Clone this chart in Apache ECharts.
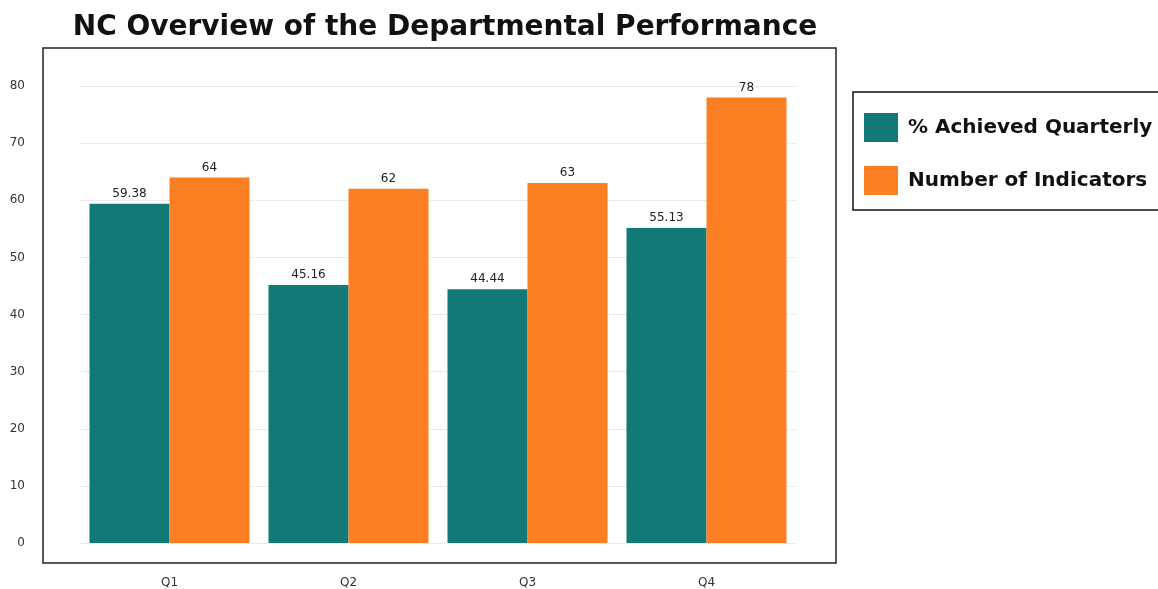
<!DOCTYPE html>
<html>
<head>
<meta charset="utf-8">
<script src="https://cdn.jsdelivr.net/npm/echarts@6/dist/echarts.min.js"></script>
<style>html,body{margin:0;padding:0;background:#fff}#c{width:1158px;height:589px}</style>
</head>
<body>
<div id="c"></div>
<script>
const categories = ['Q1', 'Q2', 'Q3', 'Q4'];
const achieved = [59.38, 45.16, 44.44, 55.13];
const indicators = [64, 62, 63, 78];
const seriesNames = ['% Achieved Quarterly', 'Number of Indicators'];
const yTicks = { min: 0, max: 80, interval: 10 };

const FONT = 'DejaVu Sans, Verdana, sans-serif';
const chart = echarts.init(document.getElementById('c'));
const labelStyle = { show: true, position: 'top', distance: 4, color: '#222', fontSize: 12, fontFamily: FONT };
chart.setOption({
  animation: false,
  title: {
    text: 'NC Overview of the Departmental Performance',
    left: 440, textAlign: 'center', top: 9,
    textStyle: { fontFamily: FONT, fontWeight: 'bold', fontSize: 28, color: '#111' }
  },
  legend: {
    orient: 'vertical', left: 853, top: 92,
    padding: [21, 14, 15, 11],
    itemWidth: 34, itemHeight: 29, itemGap: 24,
    icon: 'rect',
    borderColor: '#111', borderWidth: 1.5,
    textStyle: { fontFamily: FONT, fontWeight: 'bold', fontSize: 20, color: '#111', padding: [0, 0, 0, 5] },
    data: seriesNames
  },
  grid: [
    { left: 80, right: 362, top: 86, bottom: 46 },
    { left: 43, right: 322, top: 48, bottom: 26, show: true, borderColor: '#222', borderWidth: 1.5, backgroundColor: 'transparent' }
  ],
  xAxis: [
    { type: 'category', gridIndex: 0, data: categories,
      axisLine: { show: false }, axisTick: { show: false },
      axisLabel: { margin: 34, color: '#333', fontSize: 12, fontFamily: FONT } },
    { type: 'value', gridIndex: 1, show: false }
  ],
  yAxis: [
    { type: 'value', gridIndex: 0, min: yTicks.min, max: yTicks.max, interval: yTicks.interval,
      axisLine: { show: false }, axisTick: { show: false },
      axisLabel: { margin: 55, color: '#333', fontSize: 12, fontFamily: FONT },
      splitLine: { show: true, lineStyle: { color: '#d8d8d8', type: 'dotted', width: 1 } } },
    { type: 'value', gridIndex: 1, show: false }
  ],
  series: [
    { name: seriesNames[0], type: 'bar', xAxisIndex: 0, yAxisIndex: 0, data: achieved,
      itemStyle: { color: '#117a77' }, barGap: '0%', barCategoryGap: '10.6%', label: labelStyle },
    { name: seriesNames[1], type: 'bar', xAxisIndex: 0, yAxisIndex: 0, data: indicators,
      itemStyle: { color: '#fd7f23' }, barGap: '0%', barCategoryGap: '10.6%', label: labelStyle }
  ]
});
</script>
</body>
</html>
